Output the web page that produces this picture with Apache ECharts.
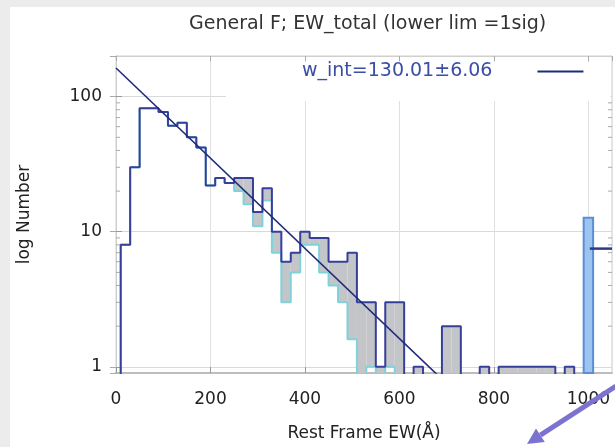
<!DOCTYPE html>
<html><head><meta charset="utf-8">
<script src="https://cdn.jsdelivr.net/npm/echarts@6/dist/echarts.min.js"></script>
<style>html,body{margin:0;padding:0;background:#fff}#c{width:615px;height:447px}</style>
</head><body><div id="c"></div>
<script>
// ---- data ----
const binCenters = [20,40,60,80,100,120,140,160,180,200,220,240,260,280,300,320,340,360,380,400,420,440,460,480,500,520,540,560,580,600,620,640,660,680,700,720,740,760,780,800,820,840,860,880,900,920,940,960,980];
const totalCounts = [8,30,82,82,77,61,64,50,42,22,25,23,25,25,14,21,10,6,7,10,9,9,6,6,7,3,3,1,3,3,0,1,0,0,2,2,0,0,1,0,1,1,1,1,1,1,0,1,0];
const lowerCounts = [8,30,82,82,77,61,64,50,42,22,25,23,20,16,11,17,7,3,5,8,8,5,4,3,1.6,0,1,0,1,0,0,0,0,0,0,0,0,0,0,0,0,0,0,0,0,0,0,0,0];
const overflowCenters = [1000];
const overflowCounts = [12.7];
const fitLine = [[0,163],[690,0.81]];
const sideMark = [[1003,7.5],[1050,7.5]];
const fitLabel = 'w_int=130.01\u00b16.06';
const titleText = 'General F; EW_total (lower lim =1sig)';
const xName = 'Rest Frame EW(\u00c5)';
const yName = 'log Number';
const yMinorTicks = [2,3,4,5,6,7,8,9,20,30,40,50,60,70,80,90];

const BIN = 20, Y_MIN = 0.9, Y_MAX = 200, X_MAX = 1050, BELOW = 0.5;
const FONT = 'DejaVu Sans';

function stepPoints(vals){
  const pts = [[0, BELOW]];
  binCenters.forEach((c,i)=>{ pts.push([c - BIN/2, vals[i] > 0 ? vals[i] : BELOW]); });
  const last = binCenters[binCenters.length-1] + BIN/2;
  pts.push([last, BELOW]);
  return pts;
}
const grayData = [];
binCenters.forEach((c,i)=>{
  if (totalCounts[i] > lowerCounts[i]) grayData.push([c-BIN/2, c+BIN/2, totalCounts[i], lowerCounts[i] > 0 ? lowerCounts[i] : Y_MIN]);
});
const overflowData = overflowCenters.map((c,i)=>[c-BIN/2, c+BIN/2, overflowCounts[i], Y_MIN]);

function rectItem(fill, stroke, lw){
  return function(params, api){
    const p0 = api.coord([api.value(0), api.value(2)]);
    const p1 = api.coord([api.value(1), api.value(3)]);
    return {type:'rect', shape:{x:p0[0], y:p0[1], width:p1[0]-p0[0], height:p1[1]-p0[1]},
      style:{fill:fill, stroke:stroke, lineWidth:lw}};
  };
}

const chart = echarts.init(document.getElementById('c'), null, {renderer:'canvas'});
chart.setOption({
  backgroundColor:'#ececec',
  animation:false,
  title:{text:titleText, left:184, top:10, textStyle:{fontFamily:FONT, fontSize:19, fontWeight:'normal', color:'#333'}},
  legend:{data:[{name:fitLabel, icon:'rect'}], left:226, top:62, align:'right', itemWidth:46, itemHeight:2,
    padding:[0,27,20,76], backgroundColor:'#fff',
    textStyle:{fontFamily:FONT, fontSize:19, color:'#3a4ea6', padding:[0,40,0,0]}},
  grid:{left:116, top:56, right:3, bottom:72, show:true, borderColor:'#cfcfcf', borderWidth:1, backgroundColor:'#fff'},
  xAxis:[{type:'value', min:0, max:X_MAX, interval:200, position:'bottom',
      name:xName, nameLocation:'middle', nameGap:52, nameTextStyle:{fontFamily:FONT, fontSize:17, color:'#222'},
      axisLine:{show:true, lineStyle:{color:'#bdbdbd', width:2}},
      axisTick:{show:true, inside:true, length:6, lineStyle:{color:'#999'}},
      axisLabel:{fontFamily:FONT, fontSize:17, color:'#222', margin:18, showMaxLabel:false, formatter:function(v){return String(v);}},
      splitLine:{show:true, lineStyle:{color:'#e0e0e0', width:1}}},
    {type:'value', min:0, max:X_MAX, interval:200, position:'top',
      axisLine:{show:true, lineStyle:{color:'#cfcfcf'}}, axisTick:{show:true, inside:true, length:5, lineStyle:{color:'#aaa'}},
      axisLabel:{show:false}, splitLine:{show:false}}],
  yAxis:[{type:'log', logBase:10, min:Y_MIN, max:Y_MAX, position:'left',
      name:yName, nameLocation:'middle', nameGap:83, nameTextStyle:{fontFamily:FONT, fontSize:17, color:'#222'},
      axisLine:{show:true, lineStyle:{color:'#c8c8c8'}},
      axisTick:{show:true, inside:true, length:6, lineStyle:{color:'#999'}},
      axisLabel:{fontFamily:FONT, fontSize:17, color:'#222', margin:14, showMinLabel:false, showMaxLabel:false},
      splitLine:{show:true, lineStyle:{color:'#d9d9d9', width:1}}},
    {type:'log', logBase:10, min:Y_MIN, max:Y_MAX, position:'right',
      axisLine:{show:true, lineStyle:{color:'#cfcfcf'}}, axisTick:{show:true, inside:true, length:6, lineStyle:{color:'#aaa'}},
      axisLabel:{show:false}, splitLine:{show:false}}],
  graphic:[
    {type:'rect', shape:{x:10, y:7, width:605, height:440}, style:{fill:'#fff'}, z:-10, silent:true},
    {type:'line', shape:{x1:616, y1:386, x2:540.4, y2:435.2}, style:{stroke:'#7c72cf', lineWidth:5}, z:100, silent:true},
    {type:'polygon', shape:{points:[[527,444],[544.8,441.9],[536,428.5]]}, style:{fill:'#7c72cf'}, z:100, silent:true}
  ],
  series:[
    {name:'minor', type:'custom', xAxisIndex:0, yAxisIndex:0, silent:true, z:1,
      data: yMinorTicks.map(v=>[0,v]),
      renderItem:function(params, api){
        const cs = params.coordSys; const y = api.coord([0, api.value(1)])[1];
        return {type:'group', children:[
          {type:'line', shape:{x1:cs.x, y1:y, x2:cs.x+4, y2:y}, style:{stroke:'#aaa', lineWidth:1}},
          {type:'line', shape:{x1:cs.x+cs.width-4, y1:y, x2:cs.x+cs.width, y2:y}, style:{stroke:'#aaa', lineWidth:1}}]};
      }},
    {name:'diff', type:'custom', xAxisIndex:0, yAxisIndex:0, silent:true, z:2,
      encode:{x:[0,1], y:[2,3]}, data:grayData, renderItem:rectItem('#c4c5c9', null, 0)},
    {name:'overflow', type:'custom', xAxisIndex:0, yAxisIndex:0, silent:true, z:2,
      encode:{x:[0,1], y:[2,3]}, data:overflowData, renderItem:rectItem('#9dc4ef', '#5b8ed8', 2)},
    {name:'lower', type:'line', step:'end', symbol:'none', clip:true, z:3, data:stepPoints(lowerCounts),
      lineStyle:{color:'#80d2da', width:2}},
    {name:'total', type:'line', step:'end', symbol:'none', clip:true, z:4, data:stepPoints(totalCounts),
      lineStyle:{color:'#36409a', width:2}},
    {name:fitLabel, type:'line', symbol:'none', clip:true, z:5, data:fitLine,
      color:'#1f2a78', lineStyle:{color:'#1f2a78', width:1.6}, itemStyle:{color:'#1f2a78'}},
    {name:'mark', type:'line', symbol:'none', clip:false, z:5, data:sideMark,
      lineStyle:{color:'#2c3c8c', width:2.5}}
  ]
});
</script></body></html>
